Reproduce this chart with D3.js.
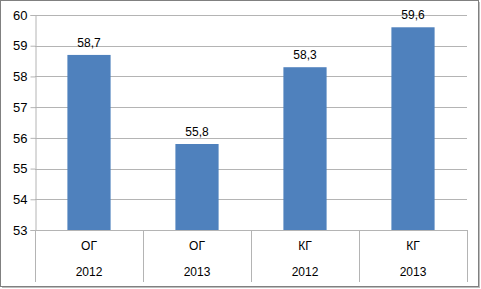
<!DOCTYPE html>
<html>
<head>
<meta charset="utf-8">
<script src="https://cdnjs.cloudflare.com/ajax/libs/d3/7.8.5/d3.min.js"></script>
<style>
  body { margin: 0; background: #fff; }
  text { font-family: "Liberation Sans", Arial, sans-serif; font-size: 12px; fill: #000; }
</style>
</head>
<body>
<svg id="chart"></svg>
<script>
// data
const groups = ['ОГ', 'ОГ', 'КГ', 'КГ'];
const years = ['2012', '2013', '2012', '2013'];
const values = [58.7, 55.8, 58.3, 59.6];
const yTicks = [53, 54, 55, 56, 57, 58, 59, 60];

const W = 481, H = 289;
const margin = { top: 15, right: 14, bottom: 59, left: 35 };
const width = W - margin.left - margin.right;
const height = H - margin.top - margin.bottom;
const lineColor = '#b4b4b4';

const svg = d3.select('#chart').attr('width', W).attr('height', H);

// outer frame with a soft shadow
svg.append('rect')
  .attr('x', 2).attr('y', 2).attr('width', W - 3).attr('height', H - 3)
  .attr('fill', '#bdbdbd');
svg.append('rect')
  .attr('x', 0.5).attr('y', 0.5).attr('width', W - 3).attr('height', H - 3)
  .attr('fill', '#fff').attr('stroke', '#808080');

const g = svg.append('g').attr('transform', `translate(${margin.left},${margin.top})`);

const idx = values.map((d, i) => i);

const xScale = d3.scaleBand()
  .domain(idx)
  .range([0, width])
  .paddingInner(0)
  .paddingOuter(0);

const yScale = d3.scaleLinear()
  .domain([53, 60])
  .range([height, 0]);

// gridlines
g.append('g')
  .selectAll('line')
  .data(yTicks)
  .enter()
  .append('line')
  .attr('x1', 0).attr('x2', width)
  .attr('y1', (d) => Math.round(yScale(d)) + 0.5)
  .attr('y2', (d) => Math.round(yScale(d)) + 0.5)
  .attr('stroke', lineColor);

// y axis
const yAxis = d3.axisLeft(yScale).tickValues(yTicks).tickSize(5).tickPadding(3).tickFormat(d3.format('d'));
const yAxisGrp = g.append('g').attr('transform', 'translate(0.5,0)').call(yAxis);
yAxisGrp.select('.domain').attr('stroke', lineColor);
yAxisGrp.selectAll('.tick line').attr('stroke', lineColor);
yAxisGrp.selectAll('.tick text').style('font-size', '13px').attr('font-family', null);

// bars
const barW = xScale.bandwidth() * 0.4;
g.append('g')
  .selectAll('rect')
  .data(values)
  .enter()
  .append('rect')
  .attr('x', (d, i) => xScale(i) + (xScale.bandwidth() - barW) / 2)
  .attr('y', (d) => yScale(d))
  .attr('width', barW)
  .attr('height', (d) => yScale(53) - yScale(d))
  .attr('fill', '#4f81bd');

// value labels
g.append('g')
  .selectAll('text')
  .data(values)
  .enter()
  .append('text')
  .attr('x', (d, i) => xScale(i) + xScale.bandwidth() / 2)
  .attr('y', (d) => yScale(d) - 8)
  .attr('text-anchor', 'middle')
  .text((d) => d3.format('.1f')(d).replace('.', ','));

// category axis: separators + two label rows
const cat = g.append('g').attr('transform', `translate(0,${height})`);
const seps = idx.map((i) => xScale(i)).concat([width]);
cat.selectAll('line')
  .data(seps)
  .enter()
  .append('line')
  .attr('x1', (d) => Math.round(d) + 0.5).attr('x2', (d) => Math.round(d) + 0.5)
  .attr('y1', 0).attr('y2', 52)
  .attr('stroke', lineColor);

cat.selectAll('.grp')
  .data(groups)
  .enter()
  .append('text')
  .attr('class', 'grp')
  .attr('x', (d, i) => xScale(i) + xScale.bandwidth() / 2)
  .attr('y', 20)
  .attr('text-anchor', 'middle')
  .text((d) => d);

cat.selectAll('.yr')
  .data(years)
  .enter()
  .append('text')
  .attr('class', 'yr')
  .attr('x', (d, i) => xScale(i) + xScale.bandwidth() / 2)
  .attr('y', 46)
  .attr('text-anchor', 'middle')
  .text((d) => d);
</script>
</body>
</html>
